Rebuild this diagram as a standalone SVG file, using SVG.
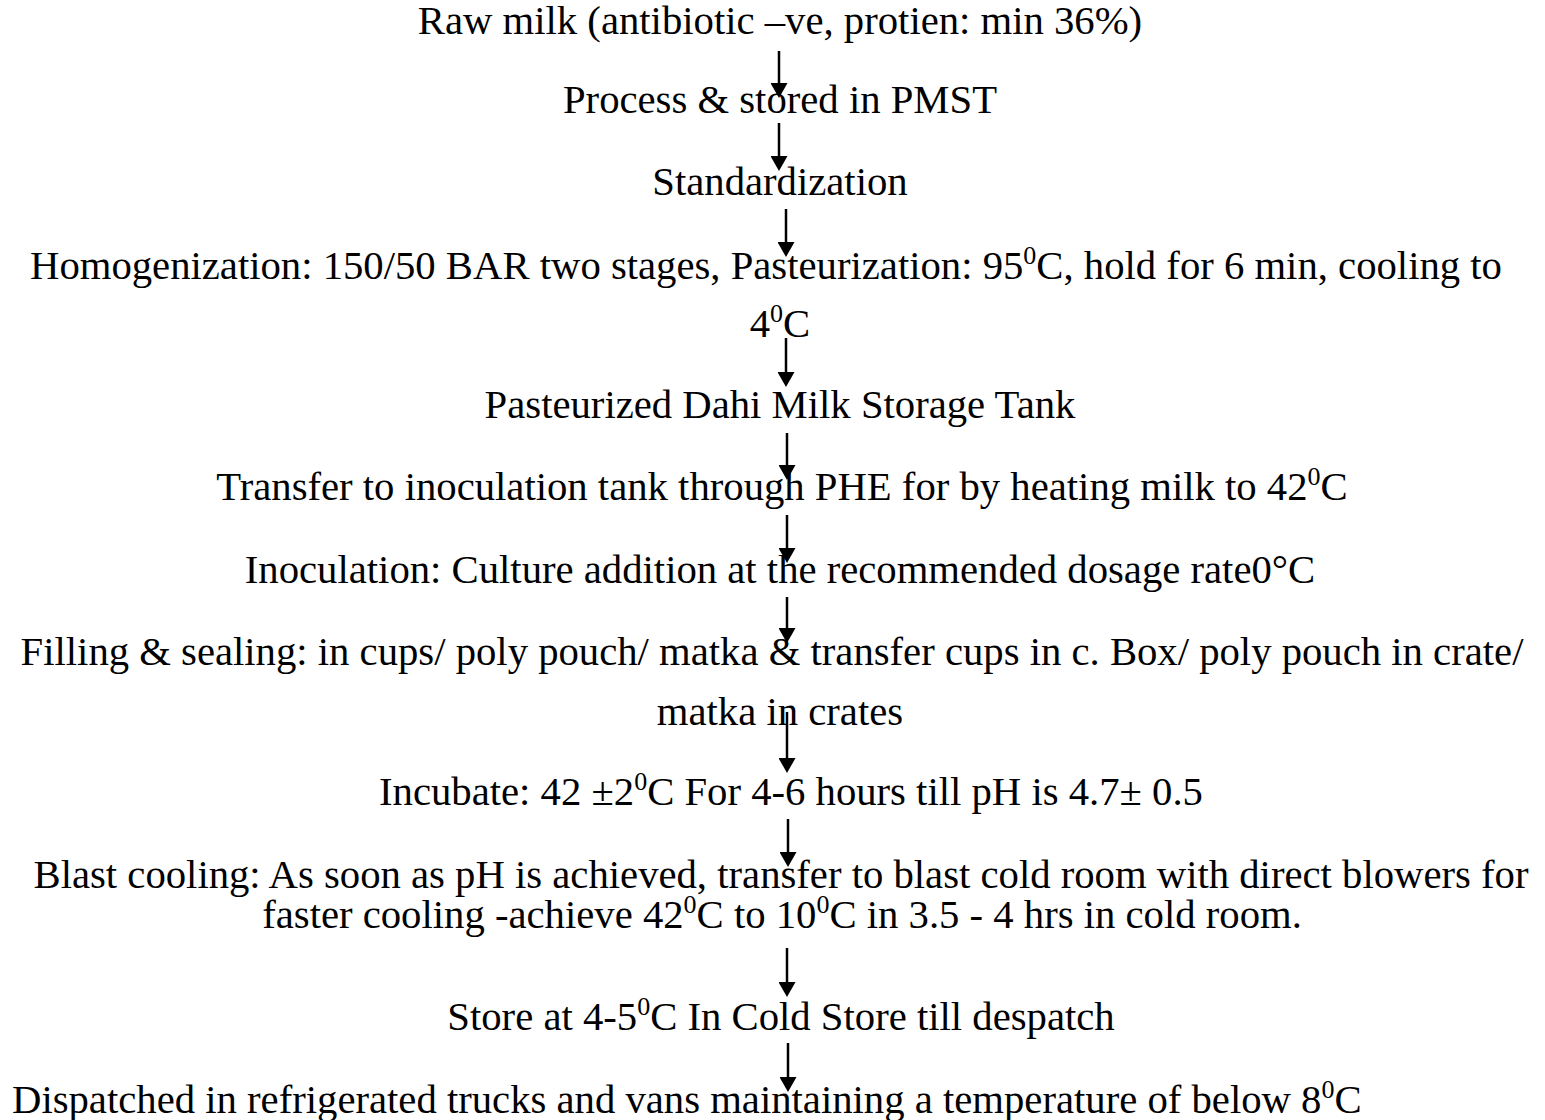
<svg xmlns="http://www.w3.org/2000/svg" width="1545" height="1120" viewBox="0 0 1545 1120">
<style>
text{font-family:"Liberation Serif","Times New Roman",serif;font-size:40.7px;fill:#000;text-anchor:middle}
.sup{font-size:26px}
.arr{stroke:#000;stroke-width:2.5;fill:none;marker-end:url(#ah)}
</style>
<defs>
<marker id="ah" markerUnits="userSpaceOnUse" viewBox="0 0 15 17" refX="11" refY="8.5" markerWidth="15" markerHeight="17" orient="auto">
<path d="M0,0 L15,8.5 L0,17 z" fill="#000"/>
</marker>
</defs>
<rect width="1545" height="1120" fill="#fff"/>
<g id="connectors">
<line class="arr" x1="779" y1="51" x2="779" y2="94"/>
<line class="arr" x1="779" y1="123" x2="779" y2="167"/>
<line class="arr" x1="786" y1="209" x2="786" y2="253"/>
<line class="arr" x1="786" y1="338" x2="786" y2="383"/>
<line class="arr" x1="787" y1="433" x2="787" y2="476"/>
<line class="arr" x1="787" y1="515" x2="787" y2="559"/>
<line class="arr" x1="787" y1="597" x2="787" y2="639"/>
<line class="arr" x1="787" y1="712" x2="787" y2="769"/>
<line class="arr" x1="788" y1="819" x2="788" y2="863"/>
<line class="arr" x1="787" y1="948" x2="787" y2="993"/>
<line class="arr" x1="788" y1="1043" x2="788" y2="1088"/>
</g>
<g id="n1"><text x="780" y="34">Raw milk (antibiotic –ve, protien: min 36%)</text></g>
<g id="n2"><text x="780" y="113">Process &amp; stored in PMST</text></g>
<g id="n3"><text x="780" y="195">Standardization</text></g>
<g id="n4"><text x="766" y="279">Homogenization: 150/50 BAR two stages, Pasteurization: 95<tspan class="sup" dy="-15">0</tspan><tspan dy="15">C, hold for 6 min, cooling to</tspan></text>
<text x="780" y="337">4<tspan class="sup" dy="-15">0</tspan><tspan dy="15">C</tspan></text></g>
<g id="n5"><text x="780" y="418">Pasteurized Dahi Milk Storage Tank</text></g>
<g id="n6"><text x="782" y="500">Transfer to inoculation tank through PHE for by heating milk to 42<tspan class="sup" dy="-15">0</tspan><tspan dy="15">C</tspan></text></g>
<g id="n7"><text x="780" y="583">Inoculation: Culture addition at the recommended dosage rate0°C</text></g>
<g id="n8"><text x="772" y="665">Filling &amp; sealing: in cups/ poly pouch/ matka &amp; transfer cups in c. Box/ poly pouch in crate/</text>
<text x="780" y="725">matka in crates</text></g>
<g id="n9"><text x="791" y="805">Incubate: 42 ±2<tspan class="sup" dy="-15">0</tspan><tspan dy="15">C For 4-6 hours till pH is 4.7± 0.5</tspan></text></g>
<g id="n10"><text x="781" y="888">Blast cooling: As soon as pH is achieved, transfer to blast cold room with direct blowers for</text>
<text x="782" y="928">faster cooling -achieve 42<tspan class="sup" dy="-15">0</tspan><tspan dy="15">C to 10</tspan><tspan class="sup" dy="-15">0</tspan><tspan dy="15">C in 3.5 - 4 hrs in cold room.</tspan></text></g>
<g id="n11"><text x="781" y="1030">Store at 4-5<tspan class="sup" dy="-15">0</tspan><tspan dy="15">C In Cold Store till despatch</tspan></text></g>
<g id="n12"><text x="12" y="1113" style="text-anchor:start">Dispatched in refrigerated trucks and vans maintaining a temperature of below 8<tspan class="sup" dy="-15">0</tspan><tspan dy="15">C</tspan></text></g>
</svg>
